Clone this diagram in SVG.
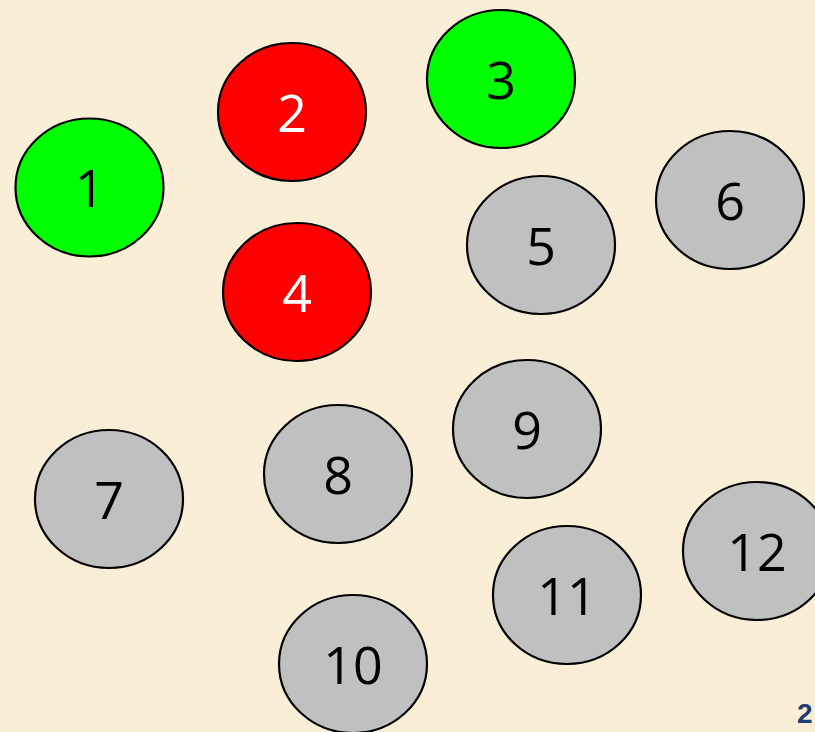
<svg xmlns="http://www.w3.org/2000/svg" width="815" height="732" viewBox="0 0 815 732">
<style>
.n ellipse{stroke:#000;stroke-width:2.2}
.g{fill:#00FF00}.r{fill:#FF0000}.s{fill:#C0C0C0}
.n text{font-family:"Open Sans","Noto Sans",sans-serif;font-size:52px;text-anchor:middle}
.w{fill:#fff}.k{fill:#000}
</style>
<rect width="815" height="732" fill="#FAEFD6"/>
<g id="connectors"></g>
<g id="n1" class="n"><ellipse class="g" cx="89.5" cy="187.5" rx="74" ry="69"/><text class="k" x="89.5" y="207">1</text></g>
<g id="n2" class="n"><ellipse class="r" cx="292" cy="112" rx="74" ry="69"/><text class="w" x="292" y="132">2</text></g>
<g id="n3" class="n"><ellipse class="g" cx="501" cy="79" rx="74" ry="69"/><text class="k" x="501" y="99">3</text></g>
<g id="n4" class="n"><ellipse class="r" cx="297" cy="292" rx="74" ry="69"/><text class="w" x="297" y="312">4</text></g>
<g id="n5" class="n"><ellipse class="s" cx="541" cy="245" rx="74" ry="69"/><text class="k" x="541" y="265">5</text></g>
<g id="n6" class="n"><ellipse class="s" cx="730" cy="200" rx="74" ry="69"/><text class="k" x="730" y="220">6</text></g>
<g id="n7" class="n"><ellipse class="s" cx="109" cy="499" rx="74" ry="69"/><text class="k" x="109" y="519">7</text></g>
<g id="n8" class="n"><ellipse class="s" cx="338" cy="474" rx="74" ry="69"/><text class="k" x="338" y="494">8</text></g>
<g id="n9" class="n"><ellipse class="s" cx="527" cy="429" rx="74" ry="69"/><text class="k" x="527" y="449">9</text></g>
<g id="n10" class="n"><ellipse class="s" cx="353" cy="664" rx="74" ry="69"/><text class="k" x="353" y="684">10</text></g>
<g id="n11" class="n"><ellipse class="s" cx="567" cy="595" rx="74" ry="69"/><text class="k" x="567" y="615">11</text></g>
<g id="n12" class="n"><ellipse class="s" cx="757" cy="551" rx="74" ry="69"/><text class="k" x="757" y="571">12</text></g>
<text x="797" y="723" font-family="'Liberation Sans',sans-serif" font-size="28" font-weight="bold" fill="#1F3B73">2</text>
</svg>
